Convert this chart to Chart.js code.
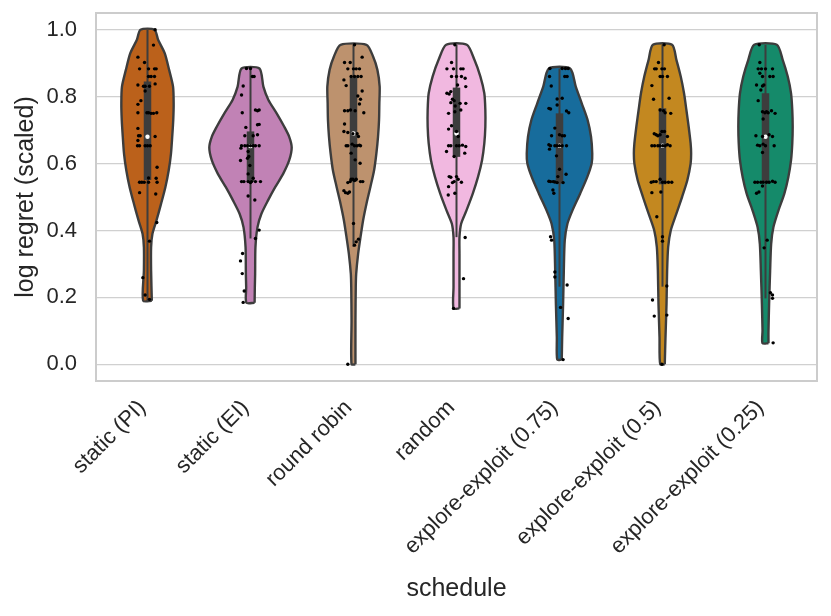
<!DOCTYPE html>
<html lang="en">
<head>
<meta charset="UTF-8">
<title>Log regret by schedule</title>
<script src="https://cdn.jsdelivr.net/npm/chart.js"></script>
<style>
  html, body { margin: 0; padding: 0; background: #fff; }
</style>
</head>
<body>
<canvas id="chart" width="831" height="616"></canvas>
<script>
// categories and colours
const schedules = ['static (PI)', 'static (EI)', 'round robin', 'random',
  'explore-exploit (0.75)', 'explore-exploit (0.5)', 'explore-exploit (0.25)'];
const violinColors = ['#bb611b', '#c182b5', '#bd926e', '#f1b8e0', '#176c9c', '#c38820', '#158a6a'];
const yTicks = [0, 0.2, 0.4, 0.6, 0.8, 1.0];

// violin outlines: value levels and half-widths (in category units)
const levelsPI = [0.19, 0.28, 0.35, 0.39, 0.43, 0.48, 0.53, 0.58, 0.63, 0.68, 0.73, 0.78, 0.83, 0.88, 0.93, 0.97, 1.0];
const widthsPI = [0.042, 0.035, 0.035, 0.048, 0.087, 0.132, 0.174, 0.206, 0.228, 0.24, 0.25, 0.254, 0.248, 0.21, 0.167, 0.103, 0.068];
const levelsEI = [0.184, 0.23, 0.27, 0.35, 0.41, 0.45, 0.49, 0.53, 0.57, 0.61, 0.648, 0.68, 0.71, 0.75, 0.79, 0.83, 0.884];
const widthsEI = [0.04, 0.042, 0.045, 0.048, 0.068, 0.106, 0.17, 0.241, 0.318, 0.376, 0.4, 0.376, 0.328, 0.254, 0.174, 0.125, 0.087];
const levelsRR = [0.0, 0.13, 0.23, 0.27, 0.33, 0.38, 0.43, 0.48, 0.53, 0.58, 0.63, 0.68, 0.73, 0.78, 0.83, 0.88, 0.92, 0.955];
const widthsRR = [0.019, 0.019, 0.022, 0.026, 0.045, 0.068, 0.093, 0.126, 0.164, 0.2, 0.222, 0.238, 0.248, 0.251, 0.254, 0.232, 0.19, 0.126];
const levelsRand = [0.167, 0.23, 0.33, 0.38, 0.42, 0.46, 0.51, 0.56, 0.61, 0.66, 0.71, 0.76, 0.81, 0.86, 0.91, 0.955];
const widthsRand = [0.029, 0.029, 0.029, 0.029, 0.045, 0.097, 0.158, 0.209, 0.248, 0.27, 0.28, 0.28, 0.27, 0.232, 0.174, 0.1];
const levelsEE75 = [0.014, 0.08, 0.18, 0.28, 0.37, 0.42, 0.46, 0.51, 0.56, 0.6, 0.63, 0.68, 0.73, 0.78, 0.83, 0.884];
const widthsEE75 = [0.022, 0.026, 0.035, 0.042, 0.051, 0.077, 0.126, 0.2, 0.27, 0.312, 0.318, 0.306, 0.273, 0.216, 0.158, 0.103];
const levelsEE50 = [0.0, 0.08, 0.18, 0.28, 0.35, 0.4, 0.45, 0.5, 0.55, 0.6, 0.63, 0.66, 0.71, 0.76, 0.81, 0.86, 0.91, 0.955];
const widthsEE50 = [0.022, 0.029, 0.039, 0.045, 0.055, 0.08, 0.135, 0.19, 0.241, 0.273, 0.278, 0.273, 0.254, 0.232, 0.209, 0.177, 0.135, 0.093];
const levelsEE25 = [0.063, 0.1, 0.18, 0.28, 0.36, 0.41, 0.46, 0.51, 0.56, 0.61, 0.66, 0.71, 0.76, 0.81, 0.86, 0.91, 0.955];
const widthsEE25 = [0.029, 0.029, 0.035, 0.045, 0.055, 0.077, 0.126, 0.183, 0.222, 0.248, 0.26, 0.264, 0.26, 0.248, 0.216, 0.167, 0.11];

// inner box: quartiles, median, whisker ends
const q1 = [0.551, 0.546, 0.546, 0.62, 0.54, 0.538, 0.546];
const q3 = [0.845, 0.696, 0.858, 0.827, 0.75, 0.765, 0.81];
const medians = [0.68, 0.652, 0.69, 0.69, 0.653, 0.653, 0.68];
const whiskerLow = [0.19, 0.376, 0.351, 0.38, 0.232, 0.232, 0.197];
const whiskerHigh = [1.0, 0.884, 0.955, 0.955, 0.884, 0.955, 0.955];

// strip points: [horizontal jitter in category units, value]
const pointsPI = [[0.074,1.0],[0.058,0.954],[-0.093,0.918],[-0.029,0.902],[-0.077,0.883],[0.01,0.883],[0.068,0.883],[0.084,0.883],[0.01,0.86],[0.035,0.86],[0.068,0.86],[-0.023,0.831],[-0.039,0.831],[0.019,0.831],[-0.093,0.835],[0.074,0.838],[-0.023,0.817],[-0.064,0.788],[-0.093,0.777],[-0.006,0.752],[0.01,0.752],[0.035,0.75],[0.058,0.75],[0.09,0.752],[-0.093,0.752],[-0.093,0.705],[-0.087,0.683],[-0.093,0.669],[-0.071,0.683],[0.074,0.681],[-0.097,0.653],[-0.077,0.653],[-0.023,0.653],[0,0.653],[0.026,0.653],[0.093,0.589],[0.01,0.557],[0.084,0.556],[0.093,0.544],[-0.077,0.544],[-0.055,0.544],[-0.032,0.544],[0.01,0.544],[-0.077,0.513],[0.08,0.509],[0.09,0.424],[0.019,0.368],[-0.045,0.259],[-0.023,0.207],[0.019,0.194]];
const pointsEI = [[-0.039,0.884],[0,0.884],[0.019,0.86],[0.035,0.86],[-0.071,0.832],[-0.087,0.805],[0.048,0.76],[0.084,0.76],[0.068,0.758],[-0.08,0.752],[0.084,0.717],[0.068,0.716],[-0.045,0.708],[0.026,0.683],[-0.055,0.683],[0.068,0.686],[-0.087,0.653],[-0.055,0.653],[-0.029,0.653],[0,0.653],[0.026,0.653],[0.048,0.653],[0.084,0.653],[-0.093,0.646],[-0.023,0.636],[-0.016,0.621],[-0.029,0.616],[-0.097,0.609],[-0.006,0.594],[-0.023,0.569],[0.026,0.556],[-0.087,0.546],[-0.064,0.546],[-0.023,0.546],[0.01,0.546],[0.048,0.546],[0.097,0.546],[0,0.543],[-0.023,0.503],[0.042,0.491],[0.084,0.401],[0.048,0.376],[-0.077,0.331],[-0.097,0.309],[-0.08,0.271],[-0.061,0.219],[-0.071,0.185]];
const pointsRR = [[0.01,0.955],[0.084,0.918],[-0.087,0.902],[-0.032,0.902],[-0.055,0.883],[0,0.883],[0.026,0.883],[0.058,0.883],[-0.023,0.86],[0.01,0.86],[0.042,0.86],[0.074,0.86],[-0.093,0.85],[-0.071,0.833],[0.084,0.817],[0.042,0.802],[0.068,0.792],[0.058,0.778],[-0.087,0.758],[-0.055,0.758],[-0.029,0.76],[0.016,0.758],[0.1,0.752],[-0.087,0.718],[-0.093,0.696],[-0.055,0.693],[0.035,0.689],[-0.006,0.689],[0.048,0.681],[-0.071,0.653],[-0.055,0.653],[-0.013,0.658],[0.01,0.653],[0.035,0.653],[0.058,0.655],[0.068,0.653],[-0.023,0.631],[0.016,0.611],[0.064,0.601],[-0.023,0.553],[-0.006,0.553],[0.01,0.549],[0.026,0.553],[0.068,0.546],[0.09,0.546],[-0.032,0.546],[-0.055,0.543],[-0.093,0.519],[-0.077,0.513],[-0.055,0.511],[-0.039,0.515],[0,0.421],[0.048,0.374],[0.026,0.366],[0.01,0.356],[-0.055,0.0]];
const pointsRand = [[-0.016,0.955],[-0.048,0.902],[-0.093,0.883],[-0.029,0.883],[0.042,0.883],[0.064,0.883],[-0.048,0.86],[0,0.86],[0.048,0.86],[0.084,0.855],[0.09,0.83],[0.01,0.835],[-0.093,0.81],[-0.055,0.815],[-0.071,0.808],[-0.039,0.792],[-0.023,0.788],[-0.055,0.782],[-0.013,0.772],[0.035,0.78],[0.09,0.78],[-0.077,0.75],[-0.016,0.755],[0.042,0.76],[-0.048,0.713],[-0.077,0.703],[0,0.696],[0.016,0.681],[-0.077,0.653],[-0.055,0.653],[0,0.653],[0.026,0.653],[0.058,0.655],[0.09,0.651],[-0.097,0.636],[-0.023,0.621],[0.08,0.631],[-0.071,0.561],[-0.055,0.559],[0,0.561],[0.016,0.553],[-0.023,0.546],[-0.039,0.543],[0.048,0.544],[-0.077,0.531],[-0.08,0.506],[-0.016,0.511],[0.084,0.379],[0.068,0.256],[-0.029,0.167]];
const pointsEE75 = [[-0.093,0.884],[0.026,0.884],[0.058,0.884],[0.084,0.884],[-0.097,0.86],[0.051,0.86],[0.074,0.86],[-0.08,0.832],[-0.023,0.793],[0.026,0.795],[-0.023,0.775],[-0.103,0.765],[-0.087,0.763],[0.068,0.757],[0.09,0.752],[-0.045,0.706],[-0.077,0.683],[0,0.686],[0.026,0.683],[0.048,0.683],[-0.103,0.656],[-0.087,0.653],[-0.045,0.653],[-0.023,0.653],[0,0.653],[0.026,0.653],[0.068,0.653],[-0.097,0.643],[-0.029,0.623],[0,0.583],[0.064,0.568],[-0.016,0.561],[-0.103,0.547],[-0.087,0.546],[-0.061,0.546],[-0.023,0.543],[0.035,0.543],[-0.045,0.545],[-0.064,0.521],[-0.055,0.511],[-0.087,0.381],[-0.077,0.371],[-0.045,0.276],[-0.045,0.261],[0.074,0.237],[0.01,0.17],[0.084,0.137],[0.035,0.014]];
const pointsEE50 = [[0.016,0.955],[-0.039,0.902],[-0.077,0.883],[-0.061,0.883],[-0.006,0.883],[0.019,0.883],[-0.023,0.86],[0,0.86],[0.048,0.86],[-0.103,0.833],[-0.087,0.792],[0.064,0.795],[-0.023,0.76],[0.01,0.758],[0.026,0.752],[0.08,0.75],[-0.08,0.689],[-0.061,0.686],[-0.045,0.683],[-0.006,0.696],[0.019,0.696],[0.048,0.681],[-0.023,0.686],[-0.103,0.653],[-0.077,0.653],[-0.045,0.653],[-0.023,0.653],[0.003,0.653],[0.026,0.653],[0.048,0.656],[0.074,0.653],[-0.109,0.544],[-0.087,0.546],[-0.061,0.546],[-0.023,0.553],[0,0.544],[0.026,0.544],[0.058,0.544],[0.09,0.544],[-0.103,0.513],[-0.016,0.515],[-0.055,0.441],[0,0.381],[0,0.368],[0.042,0.234],[-0.097,0.192],[-0.08,0.144],[0.042,0.147],[-0.006,0.0]];
const pointsEE25 = [[-0.061,0.955],[-0.055,0.902],[-0.071,0.883],[-0.039,0.883],[0,0.883],[0.068,0.883],[-0.055,0.87],[-0.029,0.86],[0.042,0.86],[0.074,0.86],[-0.087,0.835],[-0.029,0.832],[-0.016,0.835],[-0.045,0.82],[-0.071,0.788],[-0.029,0.755],[-0.006,0.752],[0.01,0.755],[0.026,0.752],[0.058,0.758],[0.093,0.75],[-0.023,0.733],[-0.093,0.683],[-0.029,0.681],[0.035,0.686],[0.068,0.681],[-0.077,0.655],[-0.055,0.653],[-0.023,0.658],[0,0.653],[0.084,0.653],[-0.029,0.633],[-0.103,0.544],[-0.077,0.544],[-0.045,0.544],[-0.023,0.544],[0.01,0.544],[0.035,0.544],[0.068,0.547],[0.093,0.544],[-0.029,0.533],[-0.087,0.511],[-0.064,0.515],[0.016,0.371],[-0.013,0.348],[0.048,0.214],[0.068,0.207],[0.068,0.197],[0.074,0.064]];

const allLevels = [levelsPI, levelsEI, levelsRR, levelsRand, levelsEE75, levelsEE50, levelsEE25];
const allWidths = [widthsPI, widthsEI, widthsRR, widthsRand, widthsEE75, widthsEE50, widthsEE25];
const allPoints = [pointsPI, pointsEI, pointsRR, pointsRand, pointsEE75, pointsEE50, pointsEE25];

const FONT = 'Liberation Sans, Arial, Helvetica, sans-serif';
const TEXT = '#262626';
const EDGE = '#3d3d3d';

// closed outline: up the right side, back down the left side
function outline(i) {
  const lv = allLevels[i], w = allWidths[i];
  const pts = [];
  for (let k = 0; k < lv.length; k++) pts.push({x: i + w[k], y: lv[k]});
  for (let k = lv.length - 1; k >= 0; k--) pts.push({x: i - w[k], y: lv[k]});
  pts.push({x: i + w[0], y: lv[0]});
  return pts;
}

const datasets = [];

// strip points on top
datasets.push({
  data: allPoints.flatMap((arr, i) => arr.map(p => ({x: i + p[0], y: p[1]}))),
  pointRadius: 1.7, pointBackgroundColor: '#000', pointBorderWidth: 0,
  showLine: false, order: 0
});
// medians
datasets.push({
  data: medians.map((m, i) => ({x: i, y: m})),
  pointRadius: 2.2, pointBackgroundColor: '#fff', pointBorderWidth: 0,
  showLine: false, order: 1
});
schedules.forEach((s, i) => {
  // IQR box
  datasets.push({
    data: [{x: i, y: q1[i]}, {x: i, y: q3[i]}],
    showLine: true, borderColor: EDGE, borderWidth: 7.5, borderCapStyle: 'butt',
    pointRadius: 0, order: 2
  });
  // whisker
  datasets.push({
    data: [{x: i, y: whiskerLow[i]}, {x: i, y: whiskerHigh[i]}],
    showLine: true, borderColor: EDGE, borderWidth: 2, borderCapStyle: 'butt',
    pointRadius: 0, order: 3
  });
  // violin body
  datasets.push({
    label: s,
    data: outline(i),
    showLine: true, fill: 'shape', tension: 0.25,
    backgroundColor: violinColors[i], borderColor: EDGE, borderWidth: 2.4,
    borderJoinStyle: 'round', pointRadius: 0, order: 4
  });
});

// light grey frame round the plot area
const framePlugin = {
  id: 'frame',
  beforeDatasetsDraw(chart) {
    const {ctx, chartArea: a} = chart;
    ctx.save();
    ctx.strokeStyle = '#cccccc';
    ctx.lineWidth = 2;
    ctx.strokeRect(a.left, a.top, a.right - a.left, a.bottom - a.top);
    ctx.restore();
  }
};

new Chart(document.getElementById('chart'), {
  type: 'scatter',
  data: { datasets },
  plugins: [framePlugin],
  options: {
    responsive: false,
    animation: false,
    layout: { padding: { top: 13, right: 14, left: 0, bottom: 0 } },
    plugins: { legend: { display: false }, tooltip: { enabled: false } },
    scales: {
      x: {
        type: 'linear', min: -0.5, max: 6.5,
        afterBuildTicks: s => { s.ticks = schedules.map((_, i) => ({value: i})); },
        afterFit: s => { s.height = 235; s.paddingLeft = 0; s.paddingRight = 0; },
        ticks: {
          callback: v => schedules[v], autoSkip: false,
          maxRotation: 45, minRotation: 45, padding: 14, labelOffset: -5,
          color: TEXT, font: { family: FONT, size: 22 }
        },
        grid: { display: false, drawTicks: false },
        border: { display: false },
        title: {
          display: true, text: 'schedule', color: TEXT,
          font: { family: FONT, size: 25 }, padding: { top: 0, bottom: 12 }
        }
      },
      y: {
        min: -0.05, max: 1.05,
        afterBuildTicks: s => { s.ticks = yTicks.map(v => ({value: v})); },
        afterFit: s => { s.width = 96; s.paddingTop = 0; s.paddingBottom = 0; },
        ticks: {
          callback: v => v.toFixed(1), padding: 19,
          color: TEXT, font: { family: FONT, size: 22 }
        },
        grid: { color: '#d0d0d0', lineWidth: 1.3, drawTicks: false },
        border: { display: false },
        title: {
          display: true, text: 'log regret (scaled)', color: TEXT,
          font: { family: FONT, size: 25 }, padding: { top: 11, bottom: 0 }
        }
      }
    }
  }
});
</script>
</body>
</html>
